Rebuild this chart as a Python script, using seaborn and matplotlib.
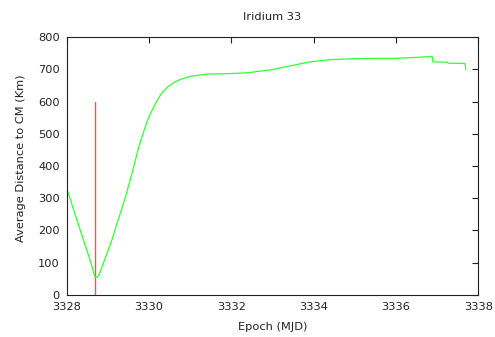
import matplotlib
matplotlib.use('Agg')
import matplotlib.pyplot as plt
import seaborn as sns
import pandas as pd

# green curve: average distance to CM vs epoch
epoch = [3328.0, 3328.1, 3328.2, 3328.32, 3328.45, 3328.56, 3328.63, 3328.68,
         3328.74, 3328.8, 3328.95, 3329.1, 3329.21, 3329.33, 3329.45, 3329.6,
         3329.75, 3329.94, 3330.05, 3330.18, 3330.3, 3330.45, 3330.59, 3330.75,
         3330.91, 3331.1, 3331.4, 3331.8, 3332.37, 3332.94, 3333.4, 3333.91,
         3334.4, 3335.0, 3335.5, 3336.0, 3336.5, 3336.88, 3336.9, 3337.25,
         3337.27, 3337.68, 3337.7]
distance = [330, 290, 250, 203, 152, 110, 80, 58,
            54, 68, 120, 172, 218, 265, 315, 385,
            460, 535, 567, 600, 625, 645, 658, 668,
            675, 680, 685, 686, 689, 698, 710, 723,
            730, 733, 734, 734, 737, 740, 723, 722,
            719, 718, 698]

# red marker line
marker_epoch = [3328.68, 3328.68]
marker_dist = [0, 600]

xticks = [3328, 3330, 3332, 3334, 3336, 3338]
yticks = [0, 100, 200, 300, 400, 500, 600, 700, 800]

sns.set_style('white')
plt.rcParams['font.family'] = ['DejaVu Sans']
plt.rcParams['font.size'] = 8.2

df = pd.DataFrame({'epoch': epoch, 'distance': distance})
mk = pd.DataFrame({'epoch': marker_epoch, 'distance': marker_dist})

fig = plt.figure(figsize=(4.95, 3.37), dpi=100)
ax = fig.add_axes([0.135, 0.125, 0.831, 0.765])

sns.lineplot(data=mk, x='epoch', y='distance', color='#ff5050', linewidth=1.0,
             estimator=None, sort=False, ax=ax)
sns.lineplot(data=df, x='epoch', y='distance', color='#33ff33', linewidth=0.9,
             estimator=None, sort=False, ax=ax)

ax.set_xlim(3328, 3338)
ax.set_ylim(0, 800)
ax.set_xticks(xticks)
ax.set_yticks(yticks)
ax.tick_params(direction='in', length=4, width=0.8, color='#222222',
               top=True, right=True, labelsize=8.2, pad=5, labelcolor='#222222')
for s in ax.spines.values():
    s.set_color('#222222')
    s.set_linewidth(0.8)

ax.set_title('Iridium 33', fontsize=8.2, pad=12, color='#222222')
ax.set_xlabel('Epoch (MJD)', fontsize=8.2, labelpad=7, color='#222222')
ax.set_ylabel('Average Distance to CM (Km)', fontsize=8.2, color='#222222')
ax.yaxis.set_label_coords(-0.099, 0.53)

fig.savefig('out.png', dpi=100)
